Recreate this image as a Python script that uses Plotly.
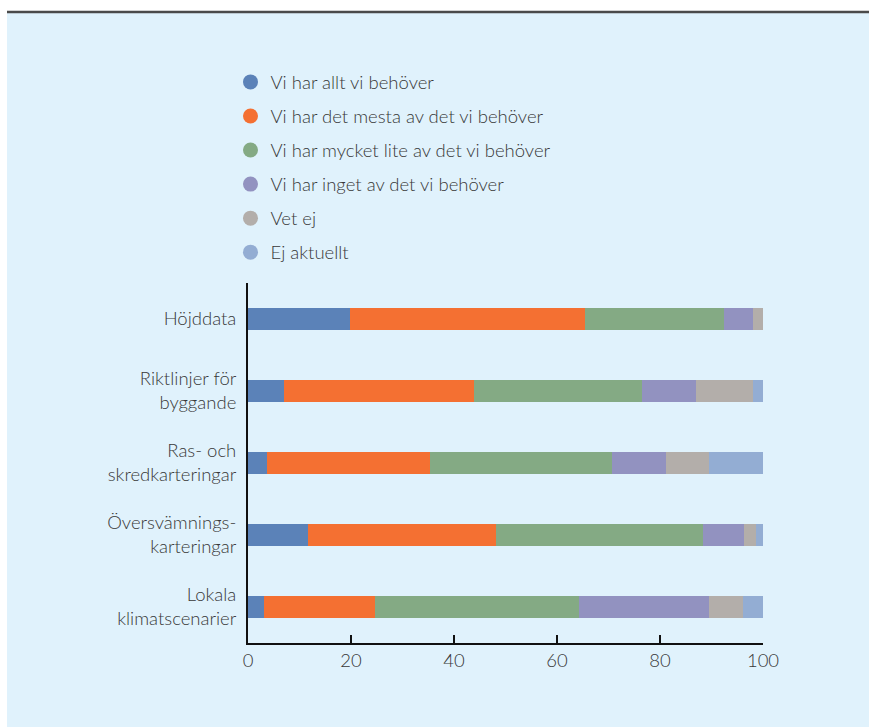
import plotly.graph_objects as go

categories = ["Höjddata", "Riktlinjer för<br>byggande", "Ras- och<br>skredkarteringar",
              "Översvämnings-<br>karteringar", "Lokala<br>klimatscenarier"]

series_names = ["Vi har allt vi behöver", "Vi har det mesta av det vi behöver",
                "Vi har mycket lite av det vi behöver", "Vi har inget av det vi behöver",
                "Vet ej", "Ej aktuellt"]

allt = [19.8, 6.9, 3.7, 11.7, 3.1]
mesta = [45.7, 37.0, 31.7, 36.5, 21.6]
lite = [27.0, 32.6, 35.3, 40.2, 39.6]
inget = [5.6, 10.5, 10.5, 8.0, 25.3]
vet_ej = [1.9, 11.1, 8.4, 2.3, 6.6]
ej_aktuellt = [0.0, 1.9, 10.4, 1.3, 3.8]

x_ticks = [0, 20, 40, 60, 80, 100]

colors = ["#5B82B8", "#F47032", "#84AA84", "#9292C0", "#B3AEAA", "#93ADD3"]
series = [allt, mesta, lite, inget, vet_ej, ej_aktuellt]

fig = go.Figure()
for name, vals, col in zip(series_names, series, colors):
    fig.add_trace(go.Bar(y=categories, x=vals, orientation="h", name=name,
                         marker=dict(color=col, line=dict(width=0)),
                         width=0.305, showlegend=False, hoverinfo="x+name"))
for i, (name, col) in enumerate(zip(series_names, colors)):
    fig.add_trace(go.Scatter(x=[None], y=[None], mode="markers", name=name,
                             legendgroup="g%d" % i,
                             marker=dict(color=col, size=15, symbol="circle")))

font = dict(family="Lato, 'Open Sans', sans-serif", size=18.5, color="#383838", weight=300)

W, H = 869, 727
L, T = 248, 283
PW, PH = 515, 360
BG = "#E0F2FC"
fig.update_layout(
    barmode="stack",
    width=W, height=H,
    margin=dict(l=L, r=W - L - PW, t=T, b=H - T - PH),
    paper_bgcolor=BG,
    plot_bgcolor=BG,
    font=font,
    legend=dict(x=-0.034, y=1.61, xanchor="left", yanchor="top",
                orientation="v", tracegroupgap=7, font=font,
                bgcolor="rgba(0,0,0,0)", itemwidth=30),
    xaxis=dict(range=[0, 100], tickvals=x_ticks, showgrid=False, zeroline=False,
               showline=True, linecolor="#111111", linewidth=2,
               ticks="inside", ticklen=8, tickwidth=2, tickcolor="#111111",
               tickfont=font),
    yaxis=dict(categoryorder="array", categoryarray=categories,
               range=[4.5, -0.5], showgrid=False, zeroline=False,
               showline=True, linecolor="#111111", linewidth=2,
               ticks="", tickfont=font, ticklabelstandoff=6),
    shapes=[
        dict(type="rect", xref="paper", yref="paper", x0=-1.0, x1=1.5,
             y0=(T + PH - 11) / PH, y1=3.0, fillcolor="white",
             line=dict(width=0), layer="below"),
        dict(type="rect", xref="paper", yref="paper", x0=-1.0, x1=(7 - L) / PW,
             y0=-1.0, y1=3.0, fillcolor="white",
             line=dict(width=0), layer="below"),
        dict(type="line", xref="paper", yref="paper", x0=(7 - L) / PW, x1=1.5,
             y0=(T + PH - 12) / PH, y1=(T + PH - 12) / PH,
             line=dict(color="#4a4a4a", width=2.5)),
    ],
)
fig.write_html("out.html", config={"displayModeBar": False},
               post_script="document.body.style.margin='0';document.documentElement.style.overflow='hidden';")
